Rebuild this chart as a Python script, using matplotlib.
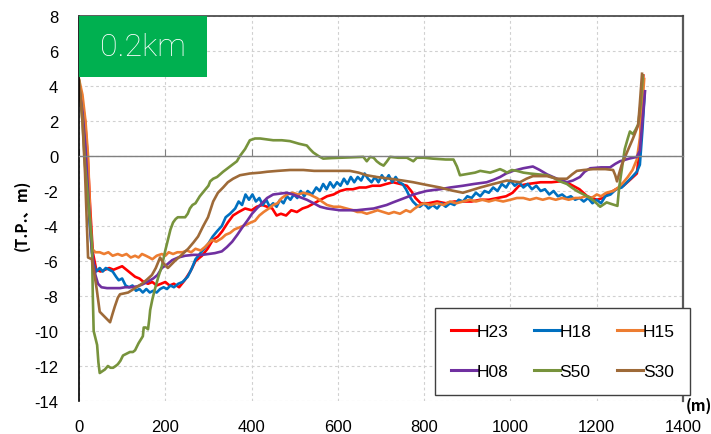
import matplotlib
matplotlib.use('Agg')
import matplotlib.pyplot as plt
from matplotlib.patches import Rectangle

# --- data (distance m, elevation T.P. m) ---
h23_x = [0, 8, 14, 20, 26, 32, 40, 50, 60, 70, 80, 90, 100, 110, 120, 130, 140, 150, 160, 170,
         180, 190, 200, 210, 220, 232, 245, 258, 270, 285, 298, 310, 322, 332, 345, 357, 370, 385,
         400, 412, 425, 436, 448, 458, 468, 480, 492, 505, 518, 530, 545, 560, 575, 590, 605, 620,
         635, 650, 665, 680, 698, 712, 728, 745, 760, 770, 780, 792, 810, 830, 850, 870, 890, 910,
         930, 950, 970, 990, 1005, 1020, 1040, 1070, 1095, 1115, 1130, 1145, 1160, 1178, 1200,
         1215, 1230, 1245, 1262, 1280, 1293, 1300, 1305, 1308]
h23_y = [4.2, 3.0, 2.0, 0.0, -3.0, -5.5, -6.5, -6.6, -6.5, -6.4, -6.5, -6.4, -6.3, -6.5, -6.7,
         -6.9, -7.0, -7.2, -7.3, -7.2, -7.4, -7.3, -7.2, -7.4, -7.3, -7.5, -7.1, -6.6, -6.0, -5.7,
         -5.3, -4.8, -4.6, -4.3, -3.8, -3.4, -3.2, -3.0, -3.1, -2.9, -2.8, -2.9, -3.0, -3.4, -3.3,
         -3.4, -3.1, -3.2, -3.0, -2.9, -2.7, -2.5, -2.3, -2.2, -2.0, -1.9, -1.9, -1.8, -1.8, -1.7,
         -1.7, -1.6, -1.5, -1.6, -1.7, -2.0, -2.4, -2.7, -2.7, -2.6, -2.7, -2.6, -2.6, -2.6, -2.5,
         -2.5, -2.4, -2.3, -2.1, -1.7, -1.6, -1.5, -1.5, -1.45, -1.5, -1.7, -1.9, -2.3, -2.5, -2.4,
         -2.1, -1.9, -1.7, -1.3, -1.0, 0.5, 3.0, 4.6]

h18_x = [0, 10, 18, 25, 32, 40, 48, 55, 62, 70, 78, 86, 92, 100, 108, 116, 124, 132, 140, 148,
         156, 164, 172, 180, 188, 196, 204, 212, 220, 230, 240, 252, 262, 270, 280, 290, 300, 310,
         320, 331, 340, 350, 362, 370, 378, 386, 394, 402, 410, 418, 426, 434, 442, 450, 458, 466,
         474, 482, 490, 498, 506, 514, 522, 530, 540, 550, 558, 566, 574, 582, 590, 598, 606, 614,
         622, 630, 638, 646, 654, 662, 670, 678, 686, 694, 702, 710, 718, 726, 734, 742, 750, 758,
         766, 774, 782, 790, 800, 810, 820, 830, 840, 850, 860, 870, 880, 890, 900, 910, 920, 930,
         940, 950, 960, 970, 980, 990, 1000, 1010, 1020, 1030, 1040, 1050, 1060, 1070, 1080, 1090,
         1100, 1110, 1120, 1130, 1140, 1150, 1160, 1170, 1180, 1190, 1200, 1210, 1220, 1232, 1245,
         1258, 1270, 1282, 1293, 1300, 1306, 1311]
h18_y = [4.3, 2.0, -1.0, -4.0, -6.0, -6.6, -6.4, -6.6, -6.4, -6.5, -6.6, -6.9, -7.1, -7.0, -7.4,
         -7.5, -7.4, -7.7, -7.6, -7.8, -7.6, -7.8, -7.7, -7.8, -7.6, -7.5, -7.6, -7.4, -7.5, -7.3,
         -7.2, -6.9, -6.4, -5.9, -5.6, -5.3, -5.0, -4.6, -4.3, -4.0, -3.5, -3.3, -3.0, -2.6, -2.8,
         -2.2, -2.5, -2.2, -2.6, -2.4, -2.8, -2.5, -2.9, -2.7, -2.9, -2.5, -2.7, -2.3, -2.5, -2.2,
         -2.4, -2.0, -2.3, -2.0, -2.2, -1.8, -2.0, -1.6, -1.9, -1.5, -1.8, -1.5, -1.7, -1.3, -1.6,
         -1.2, -1.5, -1.2, -1.4, -1.0, -1.3, -1.5, -1.2, -1.5, -1.1, -1.4, -1.1, -1.5, -1.2, -1.5,
         -1.6, -1.9, -2.3, -2.6, -2.8, -2.9, -2.7, -3.0, -2.8, -3.0, -2.7, -2.9, -2.7, -2.8, -2.5,
         -2.6, -2.3, -2.4, -2.1, -2.3, -2.0, -2.1, -1.8, -2.0, -1.6, -1.8, -1.4, -1.7, -1.5, -1.8,
         -1.6, -1.9, -1.7, -2.0, -1.9, -2.2, -2.0, -2.3, -2.2, -2.4, -2.3, -2.5, -2.4, -2.6, -2.4,
         -2.7, -2.5, -2.7, -2.3, -2.2, -1.9, -1.8, -1.5, -1.2, -0.9, -0.5, 1.5, 3.5]

h15_x = [0, 8, 15, 21, 26, 30, 38, 48, 58, 68, 78, 90, 100, 110, 120, 130, 138, 146, 155, 163,
         170, 180, 192, 200, 208, 218, 228, 240, 250, 260, 270, 282, 292, 300, 308, 318, 331, 340,
         350, 360, 370, 380, 390, 398, 408, 418, 428, 440, 450, 460, 470, 482, 495, 508, 520, 535,
         551, 563, 575, 590, 605, 620, 635, 645, 655, 667, 680, 692, 705, 718, 730, 744, 758, 768,
         778, 790, 800, 815, 830, 845, 860, 875, 890, 906, 920, 935, 950, 965, 983, 1000, 1015,
         1030, 1045, 1060, 1075, 1090, 1105, 1120, 1135, 1150, 1161, 1175, 1188, 1200, 1210, 1222,
         1238, 1250, 1262, 1272, 1283, 1293, 1300, 1306, 1310]
h15_y = [4.4, 3.5, 2.0, 0.0, -3.5, -5.3, -5.5, -5.5, -5.6, -5.5, -5.7, -5.6, -5.7, -5.6, -5.8,
         -5.7, -5.8, -5.6, -5.7, -5.8, -5.9, -5.7, -5.6, -5.7, -5.5, -5.6, -5.5, -5.5, -5.4, -5.5,
         -5.3, -5.4, -5.2, -5.0, -4.8, -4.9, -4.7, -4.5, -4.4, -4.2, -4.1, -4.0, -3.9, -3.8, -3.7,
         -3.4, -3.2, -3.0, -2.8, -2.7, -2.4, -2.2, -2.1, -2.2, -2.1, -2.2, -2.4, -2.6, -2.8, -2.9,
         -2.9, -3.0, -3.1, -3.2, -3.2, -3.3, -3.2, -3.1, -3.2, -3.3, -3.2, -3.3, -3.1, -3.2, -3.0,
         -2.8, -2.7, -2.8, -2.7, -2.8, -2.6, -2.7, -2.6, -2.5, -2.6, -2.5, -2.6, -2.5, -2.6, -2.5,
         -2.4, -2.4, -2.5, -2.4, -2.5, -2.4, -2.5, -2.4, -2.5, -2.4, -2.4, -2.3, -2.4, -2.2, -2.3,
         -2.1, -2.0, -1.8, -1.5, -1.2, -0.8, -0.2, 1.0, 3.0, 4.4]

h08_x = [0, 8, 15, 22, 30, 38, 44, 52, 65, 80, 95, 107, 120, 135, 146, 158, 172, 182, 192, 204,
         216, 230, 246, 265, 285, 300, 315, 331, 343, 355, 367, 378, 390, 401, 412, 424, 436, 450,
         466, 482, 496, 512, 528, 544, 559, 575, 590, 605, 625, 644, 663, 683, 698, 713, 728, 744,
         760, 775, 790, 805, 820, 837, 860, 890, 915, 945, 962, 976, 990, 1006, 1030, 1052, 1068,
         1085, 1108, 1131, 1145, 1161, 1172, 1185, 1210, 1231, 1243, 1254, 1275, 1293, 1300, 1306,
         1312]
h08_y = [4.0, 2.5, 0.5, -2.5, -5.5, -6.8, -7.3, -7.5, -7.55, -7.55, -7.55, -7.5, -7.5, -7.45,
         -7.35, -7.2, -7.0, -6.8, -6.4, -6.2, -5.95, -5.8, -5.7, -5.65, -5.65, -5.6, -5.55, -5.45,
         -5.2, -4.9, -4.5, -4.1, -3.7, -3.3, -3.0, -2.7, -2.4, -2.2, -2.15, -2.1, -2.2, -2.35, -2.5,
         -2.7, -2.9, -3.0, -3.05, -3.1, -3.1, -3.1, -3.05, -3.0, -2.9, -2.8, -2.65, -2.5, -2.35,
         -2.2, -2.1, -2.0, -1.95, -1.9, -1.8, -1.7, -1.6, -1.5, -1.35, -1.2, -1.0, -0.85, -0.7,
         -0.6, -0.8, -1.05, -1.3, -1.5, -1.4, -1.2, -0.9, -0.7, -0.65, -0.65, -0.45, -0.3, -0.15,
         -0.05, 0.3, 2.0, 3.7]

s50_x = [0, 8, 14, 21, 26, 30, 32, 34, 38, 42, 45, 48, 54, 60, 67, 73, 79, 85, 90, 96, 102, 110,
         118, 125, 130, 138, 148, 150, 155, 160, 163, 165, 170, 176, 184, 192, 200, 206, 212, 218,
         224, 229, 238, 246, 252, 257, 263, 270, 280, 290, 300, 304, 311, 320, 334, 350, 366, 373,
         385, 396, 408, 420, 435, 450, 470, 489, 510, 528, 535, 543, 555, 566, 585, 605, 630, 650,
         659, 667, 675, 683, 690, 698, 706, 714, 721, 740, 760, 775, 783, 800, 820, 850, 868, 876,
         883, 895, 906, 918, 930, 942, 953, 965, 976, 985, 992, 1003, 1015, 1030, 1045, 1065, 1085,
         1100, 1115, 1131, 1142, 1154, 1166, 1178, 1193, 1208, 1223, 1235, 1248, 1252, 1258, 1265,
         1272, 1277, 1284, 1290, 1296, 1302, 1307]
s50_y = [4.3, 2.0, -0.5, -2.5, -4.0, -5.0, -8.0, -10.0, -10.4, -10.8, -11.8, -12.4, -12.3, -12.2,
         -12.0, -12.1, -12.1, -12.0, -11.9, -11.7, -11.4, -11.3, -11.2, -11.2, -11.1, -10.7, -10.3,
         -9.8, -9.8, -9.9, -9.3, -8.8, -8.2, -7.6, -6.9, -6.3, -5.4, -4.8, -4.2, -3.8, -3.6, -3.5,
         -3.5, -3.5, -3.3, -3.0, -2.8, -2.7, -2.3, -2.0, -1.7, -1.45, -1.3, -1.2, -0.9, -0.6, -0.3,
         0.0, 0.4, 0.9, 1.0, 1.0, 0.95, 0.9, 0.9, 0.85, 0.7, 0.6, 0.4, 0.2, 0.0, -0.15, -0.12, -0.1,
         -0.08, -0.05, -0.05, -0.3, -0.05, -0.1, -0.3, -0.45, -0.55, -0.3, -0.05, -0.1, -0.1, -0.3,
         -0.1, -0.1, -0.15, -0.2, -0.2, -0.6, -1.1, -1.05, -1.0, -0.95, -0.85, -0.9, -0.95, -0.85,
         -0.75, -0.85, -0.95, -0.8, -0.85, -0.95, -1.0, -1.05, -1.1, -1.25, -1.45, -1.6, -1.8, -2.0,
         -2.15, -2.3, -2.55, -2.9, -2.65, -2.75, -2.85, -1.8, -0.8, 0.4, 1.0, 1.4, 1.25, 1.5, 1.8,
         3.0, 4.6]

s30_x = [0, 8, 14, 21, 30, 36, 41, 48, 60, 72, 78, 83, 90, 95, 105, 114, 130, 146, 158, 169, 178,
         188, 195, 206, 214, 222, 238, 253, 265, 276, 288, 299, 311, 322, 334, 345, 357, 373, 396,
         420, 436, 460, 489, 520, 545, 566, 600, 628, 648, 667, 690, 721, 750, 775, 805, 837, 860,
         890, 910, 930, 945, 960, 976, 992, 1007, 1022, 1037, 1052, 1070, 1085, 1100, 1108, 1131,
         1143, 1154, 1170, 1192, 1220, 1238, 1243, 1247, 1252, 1258, 1270, 1284, 1296, 1300, 1305]
s30_y = [4.3, 2.0, -1.0, -5.8, -5.9, -6.8, -7.6, -8.9, -9.2, -9.5, -9.0, -8.6, -8.1, -7.9, -7.85,
         -7.8, -7.55, -7.3, -7.05, -6.8, -6.4, -5.8, -6.1, -6.4, -6.2, -6.0, -5.65, -5.3, -4.95,
         -4.6, -4.0, -3.5, -2.6, -2.1, -1.8, -1.5, -1.3, -1.1, -1.0, -0.95, -0.9, -0.85, -0.8, -0.8,
         -0.85, -0.85, -0.85, -0.85, -0.95, -1.1, -1.2, -1.3, -1.4, -1.5, -1.65, -1.8, -1.95, -2.1,
         -1.95, -1.8, -1.7, -1.6, -1.5, -1.4, -1.45, -1.5, -1.3, -1.15, -1.15, -1.15, -1.25, -1.3,
         -1.3, -1.05, -0.85, -0.8, -0.75, -0.75, -0.8, -1.1, -1.45, -1.0, -0.5, 0.2, 1.0, 1.75, 3.0,
         4.7]

series = [
    ('H23', h23_x, h23_y, '#FF0000'),
    ('H18', h18_x, h18_y, '#0070C0'),
    ('H15', h15_x, h15_y, '#ED7D31'),
    ('H08', h08_x, h08_y, '#7030A0'),
    ('S50', s50_x, s50_y, '#77933C'),
    ('S30', s30_x, s30_y, '#9E6A38'),
]
x_ticks = [0, 200, 400, 600, 800, 1000, 1200, 1400]
y_ticks = [8, 6, 4, 2, 0, -2, -4, -6, -8, -10, -12, -14]

W, H = 711, 435
fig = plt.figure(figsize=(W / 100, H / 100), dpi=100)
ax = fig.add_axes([79 / W, 1 - 402 / H, (683 - 79) / W, (402 - 17) / H])

handles = []
for name, xs, ys, c in series:
    ln, = ax.plot(xs, ys, color=c, lw=1.9, label=name, solid_joinstyle='round')
    handles.append(ln)

ax.set_xlim(0, 1400)
ax.set_ylim(-14, 8)
ax.set_xticks(x_ticks)
ax.set_yticks(y_ticks)
ax.grid(True, color='#d0d0d0', lw=0.8, ls=(0, (2.5, 2.5)))
ax.set_axisbelow(True)

tick_font = dict(family='Liberation Sans', size=12)
ax.set_yticklabels([str(v) for v in y_ticks], **tick_font)
ax.tick_params(axis='y', length=0, pad=15)

# x axis crosses at zero, labels at the bottom
ax.spines['bottom'].set_position(('data', 0))
ax.spines['bottom'].set_color('#808080')
ax.spines['bottom'].set_linewidth(1.0)
ax.tick_params(axis='x', direction='in', length=5, color='#808080', labelbottom=False)
sec = ax.secondary_xaxis('bottom', functions=(lambda v: v, lambda v: v))
sec.set_xticks(x_ticks)
sec.set_xticklabels([str(v) for v in x_ticks], **tick_font)
sec.tick_params(length=0, pad=13)
sec.spines['bottom'].set_visible(False)

ax.spines['left'].set_color('black')
ax.spines['left'].set_linewidth(1.2)
ax.spines['top'].set_color('#404040')
ax.spines['top'].set_linewidth(1.2)
ax.spines['right'].set_color('#595959')
ax.spines['right'].set_linewidth(1.6)

# legend laid out row by row: H23 H18 H15 / H08 S50 S30
order = [0, 3, 1, 4, 2, 5]
leg = ax.legend([handles[i] for i in order], [series[i][0] for i in order],
                loc='upper left', bbox_to_anchor=(435 / W, 1 - 309 / H),
                bbox_transform=fig.transFigure, ncol=3, fancybox=False,
                framealpha=1, edgecolor='#404040', borderpad=0.9,
                handlelength=1.5, handletextpad=0.0, columnspacing=1.45,
                labelspacing=1.45, borderaxespad=0,
                prop=dict(family='Liberation Sans', size=12.5))
leg.get_frame().set_linewidth(1.0)
for line in leg.get_lines():
    line.set_linewidth(2.2)

# label box
fig.patches.append(Rectangle((79 / W, 1 - 78 / H), 128 / W, 61 / H,
                             transform=fig.transFigure, facecolor='#00B050',
                             edgecolor='none', zorder=5))
fig.text(143 / W, 1 - 48 / H, '0.2km', color='white', ha='center', va='center',
         fontsize=23, family='Roboto', fontweight='light', zorder=6)

fig.text(22 / W, 1 - 215 / H, '(T.P.、m)', rotation=90, ha='center', va='center',
         fontsize=11, fontweight='bold', family=['Noto Sans CJK JP', 'DejaVu Sans'])
fig.text(686 / W, 1 - 406 / H, '(m)', ha='left', va='center',
         fontsize=11, fontweight='bold', family=['Noto Sans CJK JP', 'DejaVu Sans'])

fig.savefig('out.png', dpi=100)
